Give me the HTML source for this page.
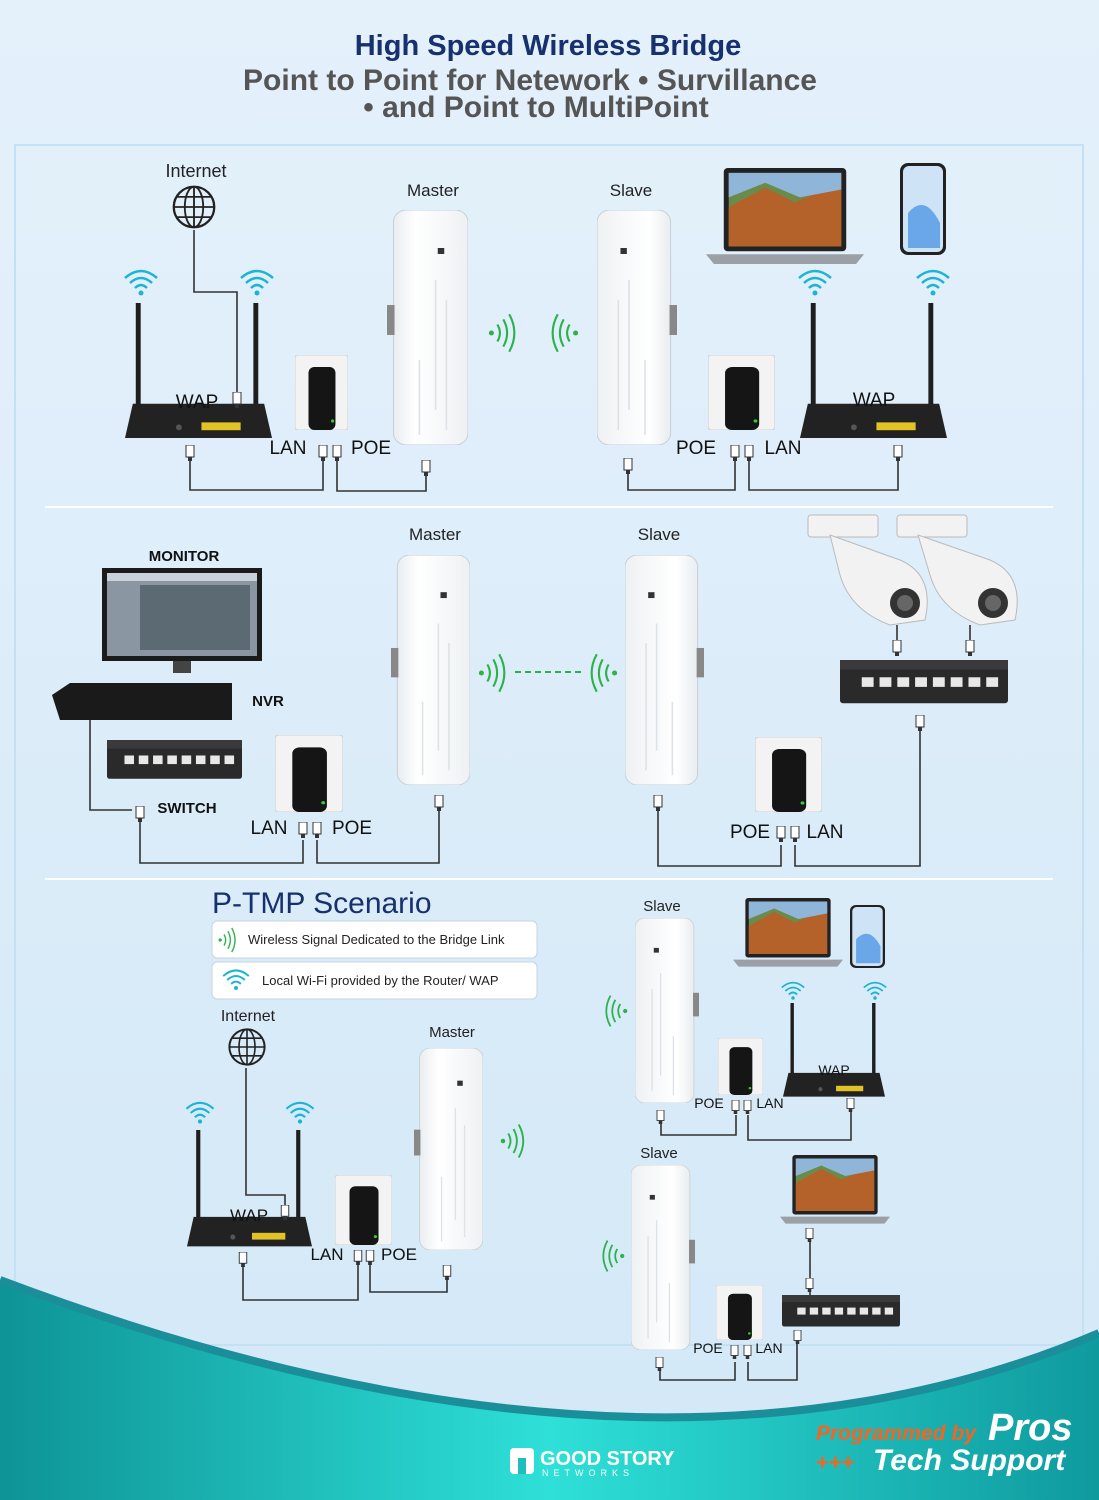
<!DOCTYPE html>
<html><head><meta charset="utf-8"><style>
html,body{margin:0;padding:0;width:1099px;height:1500px;overflow:hidden;background:#dcecf8}
svg{display:block}
text{font-family:"Liberation Sans",sans-serif}
</style></head><body>
<svg width="1099" height="1500" viewBox="0 0 1099 1500" xmlns="http://www.w3.org/2000/svg">
<defs>
<linearGradient id="bg" x1="0" y1="0" x2="0" y2="1"><stop offset="0" stop-color="#e4f1fb"/><stop offset="1" stop-color="#d3e8f7"/></linearGradient>
<linearGradient id="teal" x1="0" y1="0" x2="1" y2="0"><stop offset="0" stop-color="#0e9396"/><stop offset="0.5" stop-color="#2ee0d8"/><stop offset="1" stop-color="#0f9a9e"/></linearGradient>
<linearGradient id="cpeg" x1="0" y1="0" x2="1" y2="0"><stop offset="0" stop-color="#e9edf0"/><stop offset="0.3" stop-color="#ffffff"/><stop offset="1" stop-color="#eef1f3"/></linearGradient>
<symbol id="cpe" viewBox="0 0 75 235" preserveAspectRatio="none">
<rect x="6" y="0" width="69" height="235" rx="12" fill="url(#cpeg)" stroke="#c9d0d6" stroke-width="1"/>
<rect x="0" y="95" width="7" height="30" fill="#888"/>
<rect x="47" y="38" width="6" height="6" fill="#333"/>
<path d="M45 70 L45 200 M55 90 L55 220 M30 150 L30 225" stroke="#dde2e6" stroke-width="1.5" fill="none"/>
</symbol>
<symbol id="router" viewBox="0 0 150 140" preserveAspectRatio="none">
<rect x="11" y="0" width="5" height="110" fill="#1e1e1e"/>
<rect x="131" y="0" width="5" height="110" fill="#1e1e1e"/>
<polygon points="0,138 8,103 142,103 150,138" fill="#222"/>
<rect x="78" y="122" width="40" height="8" fill="#e2c326"/>
<circle cx="55" cy="127" r="3" fill="#555"/>
</symbol>
<symbol id="poe" viewBox="0 0 55 75" preserveAspectRatio="none">
<rect x="0" y="0" width="55" height="75" rx="3" fill="#f3f3f3" stroke="#d2d2d2"/>
<rect x="14" y="12" width="28" height="63" rx="6" fill="#151515"/>
<circle cx="39" cy="66" r="1.6" fill="#3c3"/>
</symbol>
<symbol id="wifi" viewBox="0 0 40 30">
<path d="M4 10 Q20 -4 36 10" stroke="#1cb4d4" stroke-width="2.5" fill="none"/>
<path d="M9 15 Q20 5 31 15" stroke="#1cb4d4" stroke-width="2.5" fill="none"/>
<path d="M14 20 Q20 14 26 20" stroke="#1cb4d4" stroke-width="2.5" fill="none"/>
<circle cx="20" cy="25" r="2.5" fill="#1cb4d4"/>
</symbol>
<symbol id="sigR" viewBox="0 0 40 50">
<circle cx="4" cy="25" r="3" fill="#2bb24c"/>
<path d="M11 15 Q17 25 11 35 M18 9 Q27 25 18 41 M25 3 Q37 25 25 47" stroke="#2bb24c" stroke-width="2.5" fill="none"/>
</symbol>
<symbol id="sigL" viewBox="0 0 40 50">
<circle cx="36" cy="25" r="3" fill="#2bb24c"/>
<path d="M29 15 Q23 25 29 35 M22 9 Q13 25 22 41 M15 3 Q3 25 15 47" stroke="#2bb24c" stroke-width="2.5" fill="none"/>
</symbol>
<symbol id="plug" viewBox="0 0 10 16">
<rect x="1" y="0" width="8" height="12" fill="#fff" stroke="#333" stroke-width="1"/><rect x="3" y="12" width="4" height="4" fill="#333"/>
</symbol>
<symbol id="globe" viewBox="0 0 50 50">
<circle cx="25" cy="25" r="22" fill="none" stroke="#222" stroke-width="2.5"/>
<ellipse cx="25" cy="25" rx="10" ry="22" fill="none" stroke="#222" stroke-width="2"/>
<path d="M3 25 H47 M25 3 V47 M7 14 H43 M7 36 H43" stroke="#222" stroke-width="2"/>
</symbol>
<symbol id="laptop" viewBox="0 0 160 100" preserveAspectRatio="none">
<rect x="18" y="0" width="124" height="85" rx="4" fill="#222"/>
<rect x="23" y="5" width="114" height="75" fill="#6a8c4a"/>
<path d="M23 40 L60 20 L90 35 L137 15 L137 80 L23 80Z" fill="#b5612a"/>
<path d="M23 5 H137 V22 L95 30 L60 15 L23 30Z" fill="#8fb6d8"/>
<polygon points="0,88 160,88 152,98 8,98" fill="#9aa0a6"/>
</symbol>
<symbol id="phone" viewBox="0 0 46 92" preserveAspectRatio="none">
<rect x="0" y="0" width="46" height="92" rx="8" fill="#222"/>
<rect x="3" y="3" width="40" height="86" rx="6" fill="#cfe3f7"/>
<path d="M8 50 Q25 30 40 60 L40 85 L8 85Z" fill="#6aa7e8"/>
</symbol>
<symbol id="switch" viewBox="0 0 170 50" preserveAspectRatio="none">
<rect x="0" y="5" width="170" height="40" rx="3" fill="#2a2a2a"/>
<rect x="0" y="0" width="170" height="10" fill="#3a3a3a"/>
<g fill="#e8e8e8"><rect x="22" y="18" width="12" height="10"/><rect x="40" y="18" width="12" height="10"/><rect x="58" y="18" width="12" height="10"/><rect x="76" y="18" width="12" height="10"/><rect x="94" y="18" width="12" height="10"/><rect x="112" y="18" width="12" height="10"/><rect x="130" y="18" width="12" height="10"/><rect x="148" y="18" width="12" height="10"/></g>
</symbol>
</defs>

<rect width="1099" height="1500" fill="url(#bg)"/>
<rect x="15" y="145" width="1068" height="1200" fill="none" stroke="#c5e0f2" stroke-width="2"/>

<text x="548" y="55" text-anchor="middle" font-size="29" font-weight="bold" fill="#17306e">High Speed Wireless Bridge</text>
<text x="530" y="90" text-anchor="middle" font-size="30" font-weight="bold" fill="#555">Point to Point for Netework • Survillance</text>
<text x="536" y="117" text-anchor="middle" font-size="30" font-weight="bold" fill="#555">• and Point to MultiPoint</text>

<line x1="45" y1="507" x2="1053" y2="507" stroke="#fff" stroke-width="2"/>
<line x1="45" y1="879" x2="1053" y2="879" stroke="#fff" stroke-width="2"/>

<!-- SECTION 1 -->
<g stroke="#333" stroke-width="1.6" fill="none">
<path d="M194 230 V292 H237 V392"/>
<path d="M190 460 V490 H323 V460"/>
<path d="M337 460 V491 H426 V475"/>
<path d="M628 470 V490 H735 V460"/>
<path d="M749 460 V490 H898 V460"/>
</g>
<text x="196" y="177" text-anchor="middle" font-size="18" fill="#222">Internet</text>
<use href="#globe" x="171" y="184" width="46" height="46"/>
<use href="#wifi" x="121" y="268" width="40" height="30"/>
<use href="#wifi" x="237" y="268" width="40" height="30"/>
<use href="#router" x="125" y="303" width="147" height="137"/>
<text x="197" y="408" text-anchor="middle" font-size="19" fill="#111">WAP</text>
<use href="#plug" x="232" y="392" width="10" height="16"/>
<use href="#poe" x="295" y="355" width="53" height="75"/>
<use href="#cpe" x="387" y="210" width="81" height="235"/>
<text x="433" y="196" text-anchor="middle" font-size="17" fill="#222">Master</text>
<text x="288" y="454" text-anchor="middle" font-size="19" fill="#111">LAN</text>
<text x="371" y="454" text-anchor="middle" font-size="19" fill="#111">POE</text>
<use href="#plug" x="185" y="445" width="10" height="16"/>
<use href="#plug" x="318" y="445" width="10" height="16"/>
<use href="#plug" x="332" y="445" width="10" height="16"/>
<use href="#plug" x="421" y="460" width="10" height="16"/>
<use href="#sigR" x="488" y="310" width="34" height="46"/>
<use href="#sigL" x="545" y="310" width="34" height="46"/>
<use href="#cpe" x="597" y="210" width="80" height="235" transform="translate(1274,0) scale(-1,1)"/>
<text x="631" y="196" text-anchor="middle" font-size="17" fill="#222">Slave</text>
<use href="#poe" x="708" y="355" width="67" height="75"/>
<text x="696" y="454" text-anchor="middle" font-size="19" fill="#111">POE</text>
<text x="783" y="454" text-anchor="middle" font-size="19" fill="#111">LAN</text>
<use href="#plug" x="623" y="458" width="10" height="16"/>
<use href="#plug" x="730" y="445" width="10" height="16"/>
<use href="#plug" x="744" y="445" width="10" height="16"/>
<use href="#plug" x="893" y="445" width="10" height="16"/>
<use href="#laptop" x="706" y="168" width="158" height="98"/>
<use href="#phone" x="900" y="163" width="46" height="92"/>
<use href="#wifi" x="795" y="268" width="40" height="30"/>
<use href="#wifi" x="913" y="268" width="40" height="30"/>
<use href="#router" x="800" y="303" width="147" height="137"/>
<text x="874" y="406" text-anchor="middle" font-size="19" fill="#111">WAP</text>

<!-- SECTION 2 -->
<g stroke="#333" stroke-width="1.6" fill="none">
<path d="M90 718 V810 H132"/>
<path d="M140 820 V863 H303 V840"/>
<path d="M317 840 V863 H439 V805"/>
<path d="M658 805 V866 H781 V845"/>
<path d="M795 845 V866 H920 V720"/>
<path d="M897 625 V645 M970 625 V645"/>
</g>
<text x="184" y="561" text-anchor="middle" font-size="15" font-weight="bold" fill="#111">MONITOR</text>
<rect x="102" y="568" width="160" height="93" fill="#1b1b1b"/>
<rect x="107" y="573" width="150" height="83" fill="#8a97a3"/>
<rect x="107" y="573" width="150" height="8" fill="#c9d2da"/>
<rect x="140" y="585" width="110" height="65" fill="#5c6a74"/>
<rect x="173" y="661" width="18" height="12" fill="#444"/>
<polygon points="52,695 70,683 232,683 232,720 60,720" fill="#1a1a1a"/>
<text x="268" y="706" text-anchor="middle" font-size="15" font-weight="bold" fill="#111">NVR</text>
<use href="#switch" x="107" y="740" width="135" height="43"/>
<text x="187" y="813" text-anchor="middle" font-size="15" font-weight="bold" fill="#111">SWITCH</text>
<use href="#plug" x="135" y="806" width="10" height="16"/>
<use href="#poe" x="275" y="735" width="68" height="77"/>
<text x="269" y="834" text-anchor="middle" font-size="19" fill="#111">LAN</text>
<text x="352" y="834" text-anchor="middle" font-size="19" fill="#111">POE</text>
<use href="#plug" x="298" y="822" width="10" height="16"/>
<use href="#plug" x="312" y="822" width="10" height="16"/>
<use href="#plug" x="434" y="795" width="10" height="16"/>
<use href="#cpe" x="391" y="555" width="79" height="230"/>
<text x="435" y="540" text-anchor="middle" font-size="17" fill="#222">Master</text>
<use href="#sigR" x="478" y="650" width="34" height="46"/>
<line x1="515" y1="672" x2="584" y2="672" stroke="#2bb24c" stroke-width="2" stroke-dasharray="6,4"/>
<use href="#sigL" x="584" y="650" width="34" height="46"/>
<use href="#cpe" x="625" y="555" width="79" height="230" transform="translate(1329,0) scale(-1,1)"/>
<text x="659" y="540" text-anchor="middle" font-size="17" fill="#222">Slave</text>
<use href="#plug" x="653" y="795" width="10" height="16"/>
<use href="#poe" x="755" y="737" width="67" height="75"/>
<text x="750" y="838" text-anchor="middle" font-size="19" fill="#111">POE</text>
<text x="825" y="838" text-anchor="middle" font-size="19" fill="#111">LAN</text>
<use href="#plug" x="776" y="826" width="10" height="16"/>
<use href="#plug" x="790" y="826" width="10" height="16"/>
<use href="#plug" x="915" y="715" width="10" height="16"/>
<g fill="#f2f2f2" stroke="#bbb">
<rect x="808" y="515" width="70" height="22" rx="3"/>
<path d="M830 535 L900 560 Q935 575 925 620 L890 625 Q850 610 840 575Z"/>
<rect x="897" y="515" width="70" height="22" rx="3"/>
<path d="M918 535 L990 560 Q1025 575 1015 620 L980 625 Q940 610 930 575Z"/>
</g>
<circle cx="905" cy="603" r="15" fill="#333"/><circle cx="905" cy="603" r="8" fill="#666"/>
<circle cx="993" cy="603" r="15" fill="#333"/><circle cx="993" cy="603" r="8" fill="#666"/>
<use href="#plug" x="892" y="640" width="10" height="16"/>
<use href="#plug" x="965" y="640" width="10" height="16"/>
<use href="#switch" x="840" y="660" width="168" height="48"/>

<!-- SECTION 3 -->
<text x="212" y="913" font-size="30" fill="#17306e">P-TMP Scenario</text>
<rect x="212" y="921" width="325" height="37" rx="5" fill="#fff" stroke="#c8d3dc"/>
<use href="#sigR" x="218" y="926" width="22" height="28"/>
<text x="248" y="944" font-size="13" fill="#222">Wireless Signal Dedicated to the Bridge Link</text>
<rect x="212" y="962" width="325" height="37" rx="5" fill="#fff" stroke="#c8d3dc"/>
<use href="#wifi" x="220" y="968" width="32" height="24"/>
<text x="262" y="985" font-size="13" fill="#222">Local Wi-Fi provided by the Router/ WAP</text>

<g stroke="#333" stroke-width="1.6" fill="none">
<path d="M246 1068 V1195 H285 V1205"/>
<path d="M243 1265 V1300 H358 V1265"/>
<path d="M370 1265 V1292 H447 V1280"/>
<path d="M661 1120 V1135 H736 V1115"/>
<path d="M748 1115 V1140 H851 V1110"/>
<path d="M660 1370 V1380 H735 V1362"/>
<path d="M748 1362 V1380 H797 V1340"/>
<path d="M810 1228 V1295"/>
</g>
<text x="248" y="1021" text-anchor="middle" font-size="16" fill="#222">Internet</text>
<use href="#globe" x="227" y="1027" width="40" height="40"/>
<use href="#wifi" x="183" y="1100" width="34" height="26"/>
<use href="#wifi" x="283" y="1100" width="34" height="26"/>
<use href="#router" x="187" y="1130" width="125" height="118"/>
<text x="249" y="1221" text-anchor="middle" font-size="17" fill="#111">WAP</text>
<use href="#plug" x="280" y="1205" width="10" height="15"/>
<use href="#poe" x="335" y="1175" width="57" height="70"/>
<text x="327" y="1260" text-anchor="middle" font-size="17" fill="#111">LAN</text>
<text x="399" y="1260" text-anchor="middle" font-size="17" fill="#111">POE</text>
<use href="#plug" x="238" y="1252" width="10" height="15"/>
<use href="#plug" x="353" y="1250" width="10" height="15"/>
<use href="#plug" x="365" y="1250" width="10" height="15"/>
<use href="#plug" x="442" y="1265" width="10" height="15"/>
<use href="#cpe" x="414" y="1048" width="69" height="202"/>
<text x="452" y="1037" text-anchor="middle" font-size="15" fill="#222">Master</text>
<use href="#sigR" x="500" y="1120" width="30" height="42"/>

<text x="662" y="911" text-anchor="middle" font-size="15" fill="#222">Slave</text>
<use href="#cpe" x="635" y="918" width="64" height="185" transform="translate(1334,0) scale(-1,1)"/>
<use href="#sigL" x="600" y="993" width="28" height="36"/>
<use href="#laptop" x="733" y="898" width="110" height="70"/>
<use href="#phone" x="850" y="905" width="35" height="63"/>
<use href="#wifi" x="779" y="980" width="28" height="22"/>
<use href="#wifi" x="861" y="980" width="28" height="22"/>
<use href="#router" x="783" y="1003" width="102" height="95"/>
<text x="834" y="1075" text-anchor="middle" font-size="14" fill="#111">WAP</text>
<use href="#poe" x="718" y="1038" width="45" height="57"/>
<text x="709" y="1108" text-anchor="middle" font-size="14" fill="#111">POE</text>
<text x="770" y="1108" text-anchor="middle" font-size="14" fill="#111">LAN</text>
<use href="#plug" x="656" y="1110" width="9" height="14"/>
<use href="#plug" x="731" y="1100" width="9" height="14"/>
<use href="#plug" x="743" y="1100" width="9" height="14"/>
<use href="#plug" x="846" y="1098" width="9" height="14"/>

<text x="659" y="1158" text-anchor="middle" font-size="15" fill="#222">Slave</text>
<use href="#cpe" x="631" y="1165" width="64" height="185" transform="translate(1326,0) scale(-1,1)"/>
<use href="#sigL" x="597" y="1238" width="28" height="36"/>
<use href="#laptop" x="780" y="1155" width="110" height="70"/>
<use href="#plug" x="805" y="1228" width="9" height="14"/>
<use href="#plug" x="805" y="1278" width="9" height="14"/>
<use href="#switch" x="782" y="1295" width="118" height="35"/>
<use href="#poe" x="716" y="1285" width="47" height="55"/>
<text x="708" y="1353" text-anchor="middle" font-size="14" fill="#111">POE</text>
<text x="769" y="1353" text-anchor="middle" font-size="14" fill="#111">LAN</text>
<use href="#plug" x="655" y="1357" width="9" height="14"/>
<use href="#plug" x="730" y="1345" width="9" height="14"/>
<use href="#plug" x="743" y="1345" width="9" height="14"/>
<use href="#plug" x="793" y="1330" width="9" height="14"/>

<!-- bottom wave -->
<path d="M0 1280 Q650 1525 1099 1333 L1099 1500 L0 1500Z" fill="url(#teal)"/>
<path d="M0 1280 Q650 1525 1099 1333" fill="none" stroke="#1a8f9a" stroke-width="8"/>
<rect x="510" y="1448" width="24" height="26" rx="4" fill="#fff"/>
<rect x="518" y="1458" width="8" height="16" fill="#1fbdbd"/>
<text x="540" y="1465" font-size="20" font-weight="bold" fill="#fff">GOOD STORY</text>
<text x="542" y="1476" font-size="9" fill="#fff" letter-spacing="5">NETWORKS</text>
<text x="816" y="1440" font-size="21" font-weight="bold" font-style="italic" fill="#f26522">Programmed by</text>
<text x="988" y="1440" font-size="38" font-weight="bold" font-style="italic" fill="#fff">Pros</text>
<text x="816" y="1470" font-size="22" font-weight="bold" fill="#f26522">+++</text>
<text x="873" y="1470" font-size="30" font-weight="bold" font-style="italic" fill="#fff">Tech Support</text>
</svg>
</body></html>
